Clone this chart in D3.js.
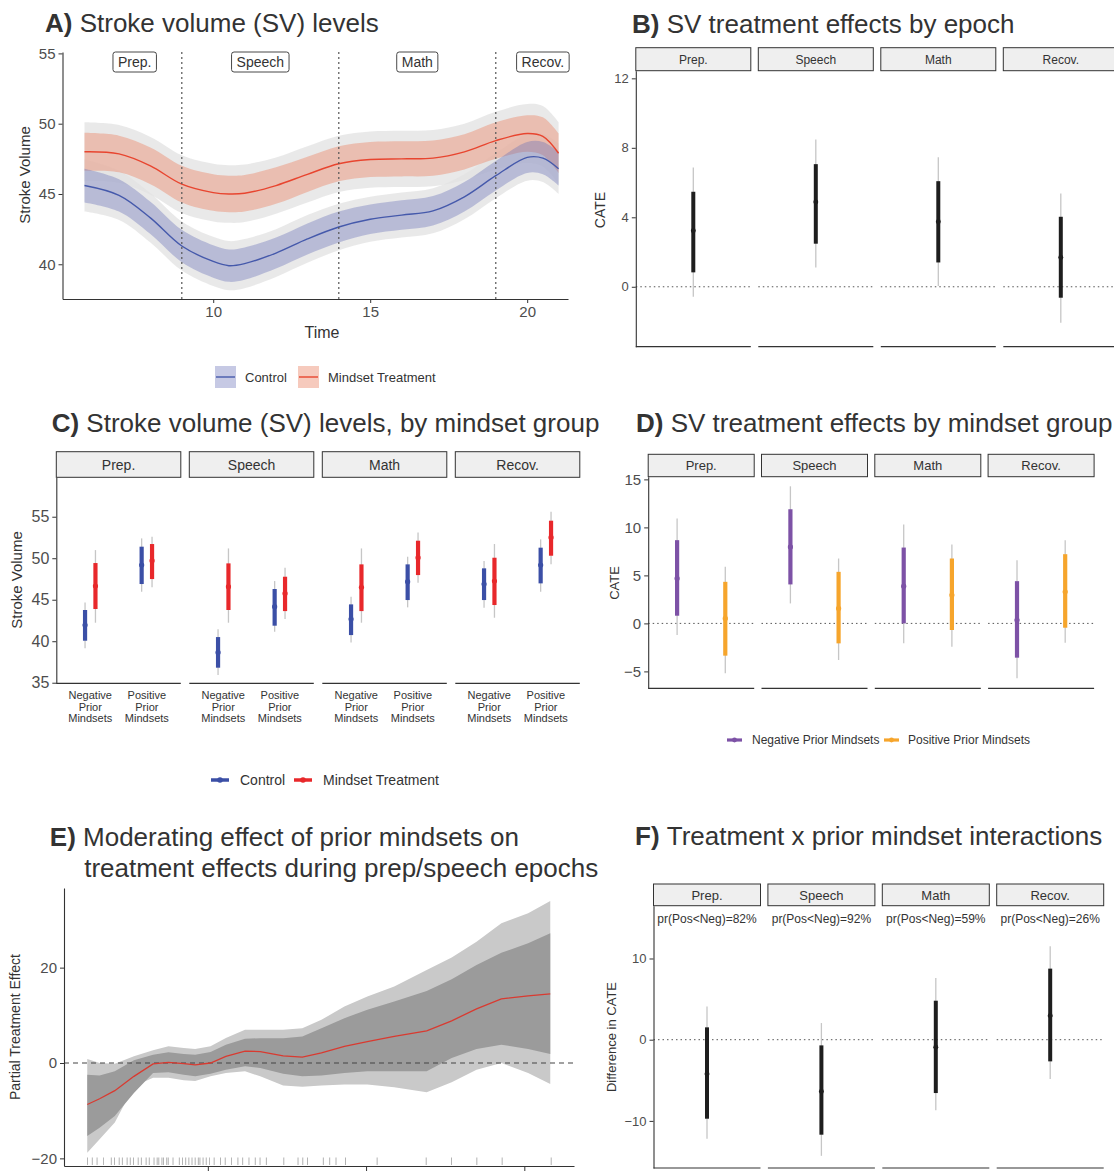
<!DOCTYPE html>
<html>
<head>
<meta charset="utf-8">
<script src="https://cdn.jsdelivr.net/npm/d3@7"></script>
<style>
  body { margin: 0; background: #fff; }
  svg { display: block; font-family: "Liberation Sans", Arial, Helvetica, sans-serif; }
</style>
</head>
<body>
<svg id="fig" width="1114" height="1171"></svg>
<script>
// ---- data ----
const epochs = ["Prep.", "Speech", "Math", "Recov."];
const epochBreaks = [9, 14, 19];
const epochLabelAt = [7.5, 11.5, 16.5, 20.5];
const mindsets = ["Negative", "Positive"];
const conditions = ["Control", "Mindset Treatment"];

// A) smoothed stroke volume over time
const timeA       = [5.9, 7, 8, 9, 10, 10.5, 11, 12, 13, 14, 15, 16, 17, 18, 19, 20, 20.5, 21];
const svControl   = [45.6, 44.9, 43.3, 41.3, 40.2, 39.9, 40.05, 40.8, 41.8, 42.65, 43.2, 43.5, 43.8, 44.8, 46.3, 47.6, 47.55, 46.8];
const svTreat     = [48.0, 47.85, 47.0, 45.7, 45.1, 45.0, 45.05, 45.6, 46.4, 47.15, 47.45, 47.5, 47.55, 48.0, 48.8, 49.3, 49.1, 47.9];
const ci50Control = [1.2, 1.15, 1.15, 1.15, 1.15, 1.15, 1.15, 1.1, 1.1, 1.1, 1.05, 1.05, 1.05, 1.05, 1.05, 1.1, 1.15, 1.2];
const ci95Control = [1.85, 1.75, 1.75, 1.75, 1.75, 1.75, 1.75, 1.7, 1.7, 1.65, 1.6, 1.6, 1.6, 1.6, 1.6, 1.65, 1.7, 1.8];
const ci50Treat   = [1.35, 1.3, 1.3, 1.3, 1.3, 1.3, 1.3, 1.3, 1.25, 1.25, 1.25, 1.25, 1.25, 1.25, 1.3, 1.3, 1.35, 1.4];
const ci95Treat   = [2.1, 2.05, 2.05, 2.05, 2.05, 2.05, 2.05, 2.0, 2.0, 2.0, 2.0, 2.0, 2.0, 2.0, 2.05, 2.1, 2.15, 2.2];

// B) CATE by epoch
const cateEpoch     = [3.22, 4.88, 3.74, 1.69];
const cateEpochLo50 = [0.83, 2.48, 1.40, -0.63];
const cateEpochHi50 = [5.47, 7.06, 6.08, 4.03];
const cateEpochLo95 = [-0.58, 1.11, 0.04, -2.07];
const cateEpochHi95 = [6.87, 8.48, 7.45, 5.37];

// C) SV levels by mindset group: epoch, mindset, condition, est, lo50, hi50, lo95, hi95
const levelsByGroup = [
  ["Prep.", "Negative", "Control", 41.95, 40.06, 43.76, 39.14, 44.68],
  ["Prep.", "Negative", "Mindset Treatment", 46.65, 43.88, 49.42, 42.23, 50.98],
  ["Prep.", "Positive", "Control", 49.18, 46.89, 51.39, 45.96, 52.39],
  ["Prep.", "Positive", "Mindset Treatment", 49.7, 47.49, 51.71, 46.49, 52.59],
  ["Speech", "Negative", "Control", 38.65, 36.81, 40.5, 35.92, 41.43],
  ["Speech", "Negative", "Mindset Treatment", 46.57, 43.76, 49.38, 42.23, 51.18],
  ["Speech", "Positive", "Control", 44.16, 41.87, 46.29, 41.14, 47.25],
  ["Speech", "Positive", "Mindset Treatment", 45.76, 43.63, 47.77, 42.67, 48.86],
  ["Math", "Negative", "Control", 42.67, 40.74, 44.44, 39.86, 45.36],
  ["Math", "Negative", "Mindset Treatment", 46.49, 43.63, 49.26, 42.23, 51.18],
  ["Math", "Positive", "Control", 47.17, 44.96, 49.26, 44.08, 50.18],
  ["Math", "Positive", "Mindset Treatment", 50.06, 47.97, 52.11, 47.05, 53.11],
  ["Recov.", "Negative", "Control", 46.89, 44.96, 48.78, 44.04, 49.66],
  ["Recov.", "Negative", "Mindset Treatment", 47.25, 44.36, 50.06, 42.83, 51.71],
  ["Recov.", "Positive", "Control", 49.18, 46.97, 51.27, 45.96, 52.27],
  ["Recov.", "Positive", "Mindset Treatment", 52.5, 50.3, 54.52, 49.26, 55.6]
];

// D) CATE by mindset group: epoch, mindset, est, lo50, hi50, lo95, hi95
const cateByGroup = [
  ["Prep.", "Negative", 4.68, 0.8, 8.67, -1.21, 10.92],
  ["Prep.", "Positive", 0.52, -3.36, 4.33, -5.2, 5.89],
  ["Speech", "Negative", 7.97, 4.06, 11.89, 2.08, 14.28],
  ["Speech", "Positive", 1.56, -2.08, 5.37, -3.81, 6.76],
  ["Math", "Negative", 3.88, 0, 7.9, -2.08, 10.29],
  ["Math", "Positive", 2.95, -0.69, 6.76, -2.43, 8.21],
  ["Recov.", "Negative", 0.35, -3.57, 4.4, -5.72, 6.59],
  ["Recov.", "Positive", 3.29, -0.45, 7.21, -2.01, 8.67]
];

// E) partial treatment effect along prior mindset score
const mindsetE = [1.238, 1.316, 1.412, 1.533, 1.654, 1.751, 1.848, 1.92, 2.017, 2.114, 2.235, 2.331, 2.476, 2.597, 2.718, 2.863, 3.008, 3.178, 3.383, 3.541, 3.698, 3.855, 4.024, 4.164];
const effectE  = [-8.7, -7.5, -5.8, -2.8, -0.2, 0.14, -0.14, -0.4, 0, 1.4, 2.5, 2.4, 1.5, 1.25, 2.1, 3.5, 4.5, 5.6, 6.76, 8.85, 11.36, 13.45, 14.08, 14.5];
const innerLoE = [-15.3, -13.6, -11.1, -6.3, -2.1, -1.95, -2.44, -2.8, -2.23, -1.4, -0.7, -1.05, -2.23, -2.8, -2.6, -2.1, -1.74, -1.74, -1.74, 1.05, 2.93, 3.83, 2.93, 1.88];
const innerHiE = [-2.44, -2.6, -1.74, 0.56, 1.74, 2.23, 1.88, 1.74, 2.3, 3.83, 5.1, 5.2, 5.2, 5.57, 7.3, 9.4, 11.15, 12.9, 15.1, 17.56, 20.56, 23.1, 25.1, 27.2];
const outerLoE = [-18.8, -16, -12.5, -4.9, -3.1, -3.1, -3.6, -3.8, -2.8, -2.1, -1.74, -2.8, -4.74, -5.0, -4.74, -4.5, -4.5, -5.1, -6.13, -4.04, -1.4, 0, -2.1, -4.4];
const outerHiE = [0.84, 0, -0.14, 1.4, 2.65, 3.5, 3.14, 2.93, 3.5, 5.23, 6.97, 6.97, 6.97, 7.3, 9.06, 11.85, 13.94, 16.03, 19.5, 22.1, 25.44, 29.3, 31.4, 34.0];
const rugE = [1.24, 1.27, 1.30, 1.34, 1.39, 1.41, 1.44, 1.46, 1.49, 1.51, 1.53, 1.56, 1.58, 1.61, 1.63, 1.66, 1.68, 1.69,
  1.71, 1.72, 1.74, 1.75, 1.78, 1.82, 1.84, 1.86, 1.88, 1.90, 1.92, 1.94, 1.95, 1.97, 1.99, 2.01, 2.04, 2.08, 2.11,
  2.15, 2.19, 2.22, 2.26, 2.30, 2.33, 2.37, 2.48, 2.57, 2.60, 2.63, 2.73, 2.77, 2.81, 2.87, 3.07, 3.38, 3.54, 3.70, 3.86, 4.17];

// F) difference in CATE (Pos - Neg)
const diffCate     = [-4.23, -6.37, -0.94, 2.96];
const diffCateLo50 = [-9.73, -11.7, -6.57, -2.67];
const diffCateHi50 = [1.52, -0.7, 4.8, 8.75];
const diffCateLo95 = [-12.2, -14.3, -8.7, -4.85];
const diffCateHi95 = [4.1, 2.05, 7.6, 11.5];
const probPosLtNeg = ["82%", "92%", "59%", "26%"];

// ---- drawing ----
const svg = d3.select("#fig");
const FONT = '"Liberation Sans", Arial, Helvetica, sans-serif';
const INK = "#333";
const TICK_TEXT = "#4d4d4d";
const colControl = "#3b4fa6", colTreat = "#e8282b";
const colNeg = "#7d52a6", colPos = "#f6a52c";

function styleAxis(g, size) {
  g.attr("font-family", FONT).attr("font-size", size);
  g.select(".domain").attr("stroke", INK).attr("stroke-width", 1.1);
  g.selectAll(".tick line").attr("stroke", INK);
  g.selectAll(".tick text").attr("fill", TICK_TEXT);
}

function panelTitle(x, y, tag, lines) {
  const t = svg.append("text").attr("x", x).attr("y", y)
    .attr("fill", INK).attr("font-size", 26);
  t.append("tspan").attr("font-weight", "bold").text(tag + " ");
  t.append("tspan").text(lines[0]);
  if (lines[1]) {
    svg.append("text").attr("x", lines[2]).attr("y", y + 31)
      .attr("fill", INK).attr("font-size", 26).text(lines[1]);
  }
}

function yTitle(x, y, label, size) {
  svg.append("text")
    .attr("transform", `translate(${x},${y}) rotate(-90)`)
    .attr("text-anchor", "middle").attr("dy", "0.35em")
    .attr("fill", INK).attr("font-size", size).text(label);
}

// facet strips + per-facet bottom lines; returns the facet band scale
function facetFrame(o) {
  const fx = d3.scaleBand().domain(epochs).range([o.x0, o.x1]).paddingInner(o.pad);
  const g = svg.append("g");
  g.selectAll("rect.strip").data(epochs).enter().append("rect")
    .attr("x", d => fx(d)).attr("y", o.stripTop)
    .attr("width", fx.bandwidth()).attr("height", o.stripBottom - o.stripTop)
    .attr("fill", "#efefef").attr("stroke", INK).attr("stroke-width", 1);
  g.selectAll("text.strip").data(epochs).enter().append("text")
    .attr("x", d => fx(d) + fx.bandwidth() / 2)
    .attr("y", (o.stripTop + o.stripBottom) / 2).attr("dy", "0.36em")
    .attr("text-anchor", "middle").attr("fill", INK).attr("font-size", o.stripFont)
    .text(d => d);
  g.selectAll("line.bottom").data(epochs).enter().append("line")
    .attr("x1", d => fx(d)).attr("x2", d => fx(d) + fx.bandwidth())
    .attr("y1", o.panelBottom).attr("y2", o.panelBottom)
    .attr("stroke", INK).attr("stroke-width", 1.2);
  if (o.zeroY !== undefined) {
    g.selectAll("line.zero").data(epochs).enter().append("line")
      .attr("x1", d => fx(d)).attr("x2", d => fx(d) + fx.bandwidth())
      .attr("y1", o.zeroY).attr("y2", o.zeroY)
      .attr("stroke", "#555").attr("stroke-width", 1).attr("stroke-dasharray", "1.5,3");
  }
  return fx;
}

function pointRange(g, x, y, est, lo50, hi50, lo95, hi95, color, thick) {
  g.append("line").attr("x1", x).attr("x2", x).attr("y1", y(lo95)).attr("y2", y(hi95))
    .attr("stroke", "#c6c6c6").attr("stroke-width", 1.3);
  g.append("line").attr("x1", x).attr("x2", x).attr("y1", y(lo50)).attr("y2", y(hi50))
    .attr("stroke", color).attr("stroke-width", thick);
  g.append("circle").attr("cx", x).attr("cy", y(est)).attr("r", thick * 0.62).attr("fill", color);
}

// -----------------------------
// A) Stroke volume levels over time
// -----------------------------
function drawPanelA() {
  const x = d3.scaleLinear().domain([5.2, 21.3]).range([62.5, 568]);
  const y = d3.scaleLinear().domain([37.53, 55.1]).range([299, 52]);
  const g = svg.append("g");
  const rows = timeA.map((t, i) => ({
    t, c: svControl[i], tr: svTreat[i],
    c50: ci50Control[i], c95: ci95Control[i], t50: ci50Treat[i], t95: ci95Treat[i]
  }));
  const band = (mid, hw) => d3.area().curve(d3.curveCatmullRom)
    .x(d => x(d.t)).y0(d => y(d[mid] - d[hw])).y1(d => y(d[mid] + d[hw]));
  const line = mid => d3.line().curve(d3.curveCatmullRom).x(d => x(d.t)).y(d => y(d[mid]));

  g.append("path").attr("d", band("tr", "t95")(rows)).attr("fill", "#e2e2e2").attr("opacity", 0.75);
  g.append("path").attr("d", band("c", "c95")(rows)).attr("fill", "#e2e2e2").attr("opacity", 0.75);
  g.append("path").attr("d", band("tr", "t50")(rows)).attr("fill", "#ea8a6c").attr("opacity", 0.45);
  g.append("path").attr("d", band("c", "c50")(rows)).attr("fill", "#6a70b8").attr("opacity", 0.38);
  g.append("path").attr("d", line("tr")(rows)).attr("fill", "none").attr("stroke", "#e8452f").attr("stroke-width", 1.4);
  g.append("path").attr("d", line("c")(rows)).attr("fill", "none").attr("stroke", "#4559ab").attr("stroke-width", 1.4);

  g.selectAll("line.epoch").data(epochBreaks).enter().append("line")
    .attr("x1", d => x(d)).attr("x2", d => x(d)).attr("y1", 52).attr("y2", 299)
    .attr("stroke", "#555").attr("stroke-width", 1.2).attr("stroke-dasharray", "2,3");

  const lab = g.selectAll("g.lab").data(epochs).enter().append("g")
    .attr("transform", (d, i) => `translate(${x(epochLabelAt[i])},62)`);
  lab.append("text").attr("text-anchor", "middle").attr("dy", "0.36em")
    .attr("fill", INK).attr("font-size", 14).text(d => d)
    .each(function () {
      const b = this.getBBox();
      d3.select(this.parentNode).insert("rect", "text")
        .attr("x", b.x - 5).attr("y", -10).attr("width", b.width + 10).attr("height", 20)
        .attr("rx", 2.5).attr("fill", "#fff").attr("stroke", INK).attr("stroke-width", 0.9);
    });

  styleAxis(g.append("g").attr("transform", "translate(62.5,0)")
    .call(d3.axisLeft(y).tickValues([40, 45, 50, 55]).tickSize(4).tickSizeOuter(0)), 15);
  styleAxis(g.append("g").attr("transform", "translate(0,299)")
    .call(d3.axisBottom(x).tickValues([10, 15, 20]).tickSize(4).tickSizeOuter(0)), 15);

  svg.append("text").attr("x", 322).attr("y", 338).attr("text-anchor", "middle")
    .attr("fill", INK).attr("font-size", 16).text("Time");
  yTitle(25, 175, "Stroke Volume", 15);

  // legend
  const keys = [
    { x: 215, tx: 245, fill: "#6a70b8", op: 0.38, stroke: "#4559ab", label: "Control" },
    { x: 298, tx: 328, fill: "#ea8a6c", op: 0.45, stroke: "#e8452f", label: "Mindset Treatment" }
  ];
  const lg = svg.append("g").selectAll("g").data(keys).enter().append("g");
  lg.append("rect").attr("x", d => d.x).attr("y", 366).attr("width", 21).attr("height", 22)
    .attr("fill", d => d.fill).attr("opacity", d => d.op);
  lg.append("line").attr("x1", d => d.x + 1).attr("x2", d => d.x + 20).attr("y1", 377).attr("y2", 377)
    .attr("stroke", d => d.stroke).attr("stroke-width", 1.4);
  lg.append("text").attr("x", d => d.tx).attr("y", 377).attr("dy", "0.36em")
    .attr("fill", INK).attr("font-size", 13).text(d => d.label);
}

// -----------------------------
// B) SV treatment effects by epoch
// -----------------------------
function drawPanelB() {
  const y = d3.scaleLinear().domain([-3.45, 12.44]).range([346.7, 70.7]);
  const fx = facetFrame({ x0: 635.8, x1: 1118.3, pad: 0.0612, stripTop: 47.7, stripBottom: 70.7,
    panelBottom: 346.7, stripFont: 12, zeroY: y(0) });
  const g = svg.append("g");
  epochs.forEach((e, i) => {
    pointRange(g, fx(e) + fx.bandwidth() / 2, y, cateEpoch[i], cateEpochLo50[i], cateEpochHi50[i],
      cateEpochLo95[i], cateEpochHi95[i], "#1e1e1e", 4);
  });
  styleAxis(g.append("g").attr("transform", "translate(635.8,0)")
    .call(d3.axisLeft(y).tickValues([0, 4, 8, 12]).tickSize(4).tickSizeOuter(0)), 13);
  yTitle(600, 210, "CATE", 14);
}

// -----------------------------
// C) SV levels by mindset group
// -----------------------------
function drawPanelC() {
  const y = d3.scaleLinear().domain([34.93, 59.75]).range([683.3, 477.3]);
  const fx = facetFrame({ x0: 56.3, x1: 579.8, pad: 0.0639, stripTop: 451.7, stripBottom: 477.3,
    panelBottom: 683.3, stripFont: 14 });
  const gx = d3.scalePoint().domain(mindsets).range([0, fx.bandwidth()]).padding(0.6);
  const dodge = d3.scalePoint().domain(conditions).range([-5.2, 5.2]);
  const color = d3.scaleOrdinal().domain(conditions).range([colControl, colTreat]);
  const g = svg.append("g");
  levelsByGroup.forEach(r => {
    pointRange(g, fx(r[0]) + gx(r[1]) + dodge(r[2]), y, r[3], r[4], r[5], r[6], r[7], color(r[2]), 4.2);
  });
  styleAxis(g.append("g").attr("transform", "translate(56.3,0)")
    .call(d3.axisLeft(y).tickValues([35, 40, 45, 50, 55]).tickSize(4).tickSizeOuter(0)), 16);
  // category labels
  epochs.forEach(e => {
    mindsets.forEach(m => {
      const t = g.append("text").attr("x", fx(e) + gx(m)).attr("y", 699)
        .attr("text-anchor", "middle").attr("fill", INK).attr("font-size", 11);
      [m, "Prior", "Mindsets"].forEach((w, k) => {
        t.append("tspan").attr("x", fx(e) + gx(m)).attr("dy", k === 0 ? 0 : 11.7).text(w);
      });
    });
  });
  yTitle(17, 580, "Stroke Volume", 15);

  const keys = [
    { x: 211, tx: 240, c: colControl, label: "Control" },
    { x: 294, tx: 323, c: colTreat, label: "Mindset Treatment" }
  ];
  const lg = svg.append("g").selectAll("g").data(keys).enter().append("g");
  lg.append("line").attr("x1", d => d.x).attr("x2", d => d.x + 18).attr("y1", 780).attr("y2", 780)
    .attr("stroke", d => d.c).attr("stroke-width", 3.5);
  lg.append("circle").attr("cx", d => d.x + 9).attr("cy", 780).attr("r", 2.8).attr("fill", d => d.c);
  lg.append("text").attr("x", d => d.tx).attr("y", 780).attr("dy", "0.36em")
    .attr("fill", INK).attr("font-size", 14).text(d => d.label);
}

// -----------------------------
// D) SV treatment effects by mindset group
// -----------------------------
function drawPanelD() {
  const y = d3.scaleLinear().domain([-6.76, 15.28]).range([688.3, 476.7]);
  const fx = facetFrame({ x0: 648.2, x1: 1094.1, pad: 0.0644, stripTop: 454.3, stripBottom: 476.7,
    panelBottom: 688.3, stripFont: 13, zeroY: y(0) });
  const gx = d3.scalePoint().domain(mindsets).range([0, fx.bandwidth()]).padding(0.6);
  const color = d3.scaleOrdinal().domain(mindsets).range([colNeg, colPos]);
  const g = svg.append("g");
  cateByGroup.forEach(r => {
    pointRange(g, fx(r[0]) + gx(r[1]), y, r[2], r[3], r[4], r[5], r[6], color(r[1]), 4.2);
  });
  styleAxis(g.append("g").attr("transform", "translate(648.2,0)")
    .call(d3.axisLeft(y).tickValues([-5, 0, 5, 10, 15]).tickSize(4).tickSizeOuter(0)), 15);
  yTitle(614, 583, "CATE", 13);

  const keys = [
    { x: 727, tx: 752, c: colNeg, label: "Negative Prior Mindsets" },
    { x: 884, tx: 908, c: colPos, label: "Positive Prior Mindsets" }
  ];
  const lg = svg.append("g").selectAll("g").data(keys).enter().append("g");
  lg.append("line").attr("x1", d => d.x).attr("x2", d => d.x + 15).attr("y1", 740).attr("y2", 740)
    .attr("stroke", d => d.c).attr("stroke-width", 3.2);
  lg.append("circle").attr("cx", d => d.x + 7.5).attr("cy", 740).attr("r", 2.4).attr("fill", d => d.c);
  lg.append("text").attr("x", d => d.tx).attr("y", 740).attr("dy", "0.36em")
    .attr("fill", INK).attr("font-size", 12).text(d => d.label);
}

// -----------------------------
// E) Moderating effect of prior mindsets
// -----------------------------
function drawPanelE() {
  const x = d3.scaleLinear().domain([1.091, 4.314]).range([64, 574]);
  const y = d3.scaleLinear().domain([-21.6, 36.7]).range([1166, 888]);
  const g = svg.append("g");
  const rows = mindsetE.map((m, i) => ({ m, e: effectE[i], il: innerLoE[i], ih: innerHiE[i], ol: outerLoE[i], oh: outerHiE[i] }));
  const area = (lo, hi) => d3.area().x(d => x(d.m)).y0(d => y(d[lo])).y1(d => y(d[hi]));
  g.append("path").attr("d", area("ol", "oh")(rows)).attr("fill", "#c9c9c9");
  g.append("path").attr("d", area("il", "ih")(rows)).attr("fill", "#9b9b9b");
  g.append("line").attr("x1", 64).attr("x2", 574).attr("y1", y(0)).attr("y2", y(0))
    .attr("stroke", "#444").attr("stroke-width", 1.2).attr("stroke-dasharray", "5,4");
  g.append("path").attr("d", d3.line().x(d => x(d.m)).y(d => y(d.e))(rows))
    .attr("fill", "none").attr("stroke", "#d93a30").attr("stroke-width", 1.3);
  g.selectAll("line.rug").data(rugE).enter().append("line")
    .attr("x1", d => x(d)).attr("x2", d => x(d)).attr("y1", 1157.5).attr("y2", 1165)
    .attr("stroke", "#888").attr("stroke-width", 0.8).attr("opacity", 0.8);
  styleAxis(g.append("g").attr("transform", "translate(64,0)")
    .call(d3.axisLeft(y).tickValues([-20, 0, 20]).tickSize(4).tickSizeOuter(0)), 15);
  // x tick labels fall below the figure's lower edge, so only the tick marks show
  styleAxis(g.append("g").attr("transform", "translate(0,1166)")
    .call(d3.axisBottom(x).tickValues([2, 3, 4]).tickSize(5).tickSizeOuter(0).tickFormat(() => "")), 15);
  yTitle(15, 1027, "Partial Treatment Effect", 14);
}

// -----------------------------
// F) Treatment x prior mindset interactions
// -----------------------------
function drawPanelF() {
  const y = d3.scaleLinear().domain([-15.8, 16.5]).range([1168, 905.7]);
  const fx = facetFrame({ x0: 653.5, x1: 1103.7, pad: 0.0647, stripTop: 884, stripBottom: 905.7,
    panelBottom: 1168, stripFont: 13, zeroY: y(0) });
  const g = svg.append("g");
  epochs.forEach((e, i) => {
    const cx = fx(e) + fx.bandwidth() / 2;
    pointRange(g, cx, y, diffCate[i], diffCateLo50[i], diffCateHi50[i], diffCateLo95[i], diffCateHi95[i], "#1e1e1e", 4);
    g.append("text").attr("x", cx).attr("y", 918.5).attr("dy", "0.36em").attr("text-anchor", "middle")
      .attr("fill", INK).attr("font-size", 12).text(`pr(Pos<Neg)=${probPosLtNeg[i]}`);
  });
  styleAxis(g.append("g").attr("transform", "translate(653.5,0)")
    .call(d3.axisLeft(y).tickValues([-10, 0, 10]).tickSize(4).tickSizeOuter(0)), 13);
  yTitle(611, 1037, "Difference in CATE", 13);
}

panelTitle(45, 32, "A)", ["Stroke volume (SV) levels"]);
panelTitle(632, 33, "B)", ["SV treatment effects by epoch"]);
panelTitle(51.7, 432, "C)", ["Stroke volume (SV) levels, by mindset group"]);
panelTitle(636, 432, "D)", ["SV treatment effects by mindset group"]);
panelTitle(49.8, 846, "E)", ["Moderating effect of prior mindsets on", "treatment effects during prep/speech epochs", 84.2]);
panelTitle(635, 845, "F)", ["Treatment x prior mindset interactions"]);

drawPanelA();
drawPanelB();
drawPanelC();
drawPanelD();
drawPanelE();
drawPanelF();
</script>
</body>
</html>
